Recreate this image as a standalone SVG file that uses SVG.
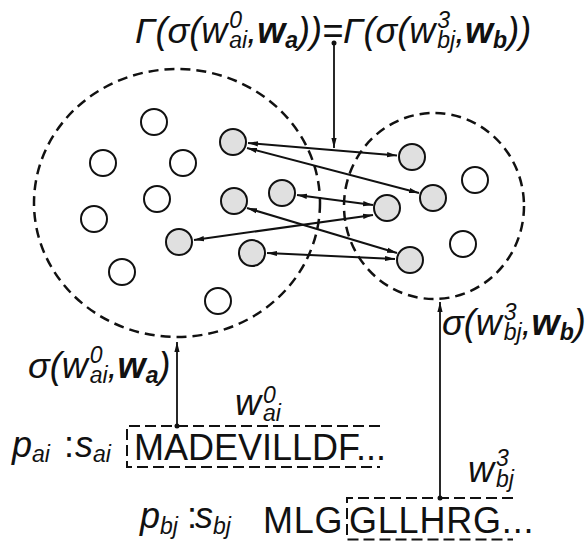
<svg xmlns="http://www.w3.org/2000/svg" width="587" height="541" viewBox="0 0 587 541">
<defs>
<marker id="ah" viewBox="0 0 10 6" refX="10" refY="3" markerWidth="10" markerHeight="6" markerUnits="userSpaceOnUse" orient="auto-start-reverse"><path d="M0,0.4 L10,3 L0,5.6 z" fill="#111"/></marker>
</defs>
<style>
.cl { fill:none; stroke:#111; stroke-width:2.5; stroke-dasharray:10 6; }
.n { fill:#fff; stroke:#111; stroke-width:2; }
.g { fill:#e0e0e0; stroke:#111; stroke-width:2; }
.c { stroke:#111; stroke-width:2; fill:none; marker-start:url(#ah); marker-end:url(#ah); }
.v { stroke:#111; stroke-width:1.8; fill:none; marker-end:url(#ah); }
.dot { fill:#111; }
.box { fill:none; stroke:#111; stroke-width:2; stroke-dasharray:11 5; }
.m { font-family:"Liberation Sans", Arial, sans-serif; font-style:italic; font-size:36px; fill:#111; }
.s { font-size:23px; }
.b { font-weight:bold; }
.seq { font-family:"Liberation Sans", Arial, sans-serif; font-size:36px; fill:#111; }
</style>
<rect width="587" height="541" fill="#fff"/>

<g id="cluster-a"><ellipse class="cl" cx="177" cy="203" rx="143" ry="134"/></g>
<g id="cluster-b"><ellipse class="cl" cx="434" cy="206" rx="90" ry="93"/></g>

<g id="a1"><circle class="n" cx="154" cy="122" r="13"/></g>
<g id="a2"><circle class="n" cx="103" cy="163" r="13"/></g>
<g id="a3"><circle class="n" cx="183" cy="163" r="13"/></g>
<g id="a4"><circle class="n" cx="157" cy="199" r="13"/></g>
<g id="a5"><circle class="n" cx="94" cy="219" r="13"/></g>
<g id="a6"><circle class="n" cx="122" cy="272" r="13"/></g>
<g id="a7"><circle class="n" cx="218" cy="301" r="13"/></g>
<g id="g1"><circle class="g" cx="233" cy="142" r="13"/></g>
<g id="g2"><circle class="g" cx="282" cy="193" r="13"/></g>
<g id="g3"><circle class="g" cx="234" cy="201" r="13"/></g>
<g id="g4"><circle class="g" cx="179" cy="242" r="13"/></g>
<g id="g5"><circle class="g" cx="252" cy="253" r="13"/></g>

<g id="r1"><circle class="g" cx="412" cy="157" r="13"/></g>
<g id="r2"><circle class="g" cx="433" cy="198" r="13"/></g>
<g id="r3"><circle class="g" cx="387" cy="208" r="13"/></g>
<g id="r4"><circle class="g" cx="410" cy="260" r="13"/></g>
<g id="b1"><circle class="n" cx="475" cy="180" r="13"/></g>
<g id="b2"><circle class="n" cx="463" cy="244" r="13"/></g>

<g id="connectors">
<line class="c" x1="248" y1="143" x2="397" y2="155.5"/>
<line class="c" x1="247" y1="148" x2="419" y2="193"/>
<line class="c" x1="297" y1="195" x2="373" y2="205"/>
<line class="c" x1="247" y1="208" x2="397" y2="253"/>
<line class="c" x1="194" y1="240" x2="373" y2="215"/>
<line class="c" x1="267" y1="253" x2="395" y2="259"/>
<line class="v" x1="334" y1="43" x2="334" y2="148"/>
<circle class="dot" cx="334" cy="43" r="2.5"/>
<line class="v" x1="177" y1="426" x2="177" y2="342"/>
<circle class="dot" cx="177" cy="426" r="2.5"/>
<line class="v" x1="440" y1="498" x2="440" y2="302"/>
<circle class="dot" cx="440" cy="498" r="2.5"/>
</g>

<g id="label-top">
<text class="m" x="135" y="43">Γ(σ(w<tspan class="s" dx="2" dy="-15">0</tspan><tspan class="s" dx="-12.8" dy="20">ai</tspan><tspan dy="-5">,</tspan><tspan class="b">w</tspan><tspan class="s b" dy="5">a</tspan><tspan dy="-5">))=Γ(σ(w</tspan><tspan class="s" dx="2" dy="-15">3</tspan><tspan class="s" dx="-12.8" dy="20">bj</tspan><tspan dy="-5">,</tspan><tspan class="b">w</tspan><tspan class="s b" dy="5">b</tspan><tspan dy="-5">))</tspan></text>
</g>

<g id="label-sigma-a">
<text class="m" x="28" y="378">σ(w<tspan class="s" dx="2" dy="-15">0</tspan><tspan class="s" dx="-12.8" dy="20">ai</tspan><tspan dy="-5">,</tspan><tspan class="b">w</tspan><tspan class="s b" dy="5">a</tspan><tspan dy="-5">)</tspan></text>
</g>
<g id="label-sigma-b">
<text class="m" x="442" y="335">σ(w<tspan class="s" dx="2" dy="-15">3</tspan><tspan class="s" dx="-12.8" dy="20">bj</tspan><tspan dy="-5">,</tspan><tspan class="b">w</tspan><tspan class="s b" dy="5">b</tspan><tspan dy="-5">)</tspan></text>
</g>

<g id="window-a">
<path class="box" d="M380,426 H127 V467 H380"/>
<text class="m" x="235" y="415">w<tspan class="s" dx="2" dy="-12">0</tspan><tspan class="s" dx="-12.8" dy="18">ai</tspan></text>
</g>
<g id="window-b">
<path class="box" d="M513,498 H347 V539.5 H513"/>
<text class="m" x="468" y="482">w<tspan class="s" dx="2" dy="-16">3</tspan><tspan class="s" dx="-12.8" dy="21">bj</tspan></text>
</g>

<g id="seq-a">
<text class="m" x="12" y="457">p<tspan class="s" dy="5">ai</tspan><tspan x="64" dy="-5" style="font-style:normal">:</tspan><tspan x="75">s</tspan><tspan class="s" dy="5">ai</tspan></text>
<text class="seq" x="134" y="460">MADEVILLDF...</text>
</g>
<g id="seq-b">
<text class="m" x="140" y="528">p<tspan class="s" dy="6">bj</tspan><tspan x="187" dy="-6" style="font-style:normal">:</tspan><tspan x="195">s</tspan><tspan class="s" dy="6">bj</tspan></text>
<text class="seq" x="263" y="533" letter-spacing="0.8">MLG<tspan x="349">GLLHRG...</tspan></text>
</g>
</svg>
